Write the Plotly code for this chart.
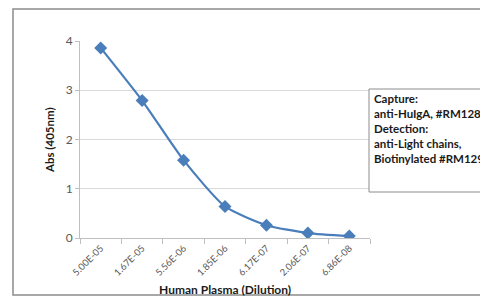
import plotly.graph_objects as go

dilutions = ["5.00E-05", "1.67E-05", "5.56E-06", "1.85E-06", "6.17E-07", "2.06E-07", "6.86E-08"]
absorbance = [3.86, 2.79, 1.58, 0.64, 0.26, 0.10, 0.04]
y_ticks = [0, 1, 2, 3, 4]
note_lines = ["Capture:", "anti-HuIgA, #RM128", "Detection:", "anti-Light chains,", "Biotinylated #RM129"]

# page has a default 8px body margin; work in page pixels and offset
OFF = 8
W, H = 488 - OFF, 297 - OFF
# plot area in page pixels
PL, PR, PT, PB = 80, 370, 41, 238

def fx(x):  # page x -> paper fraction
    return (x - OFF) / W

def fy(y):  # page y -> paper fraction
    return 1 - (y - OFF) / H

font_family = "Lato, 'Open Sans', sans-serif"

fig = go.Figure()
fig.add_trace(go.Scatter(
    x=dilutions, y=absorbance, mode="lines+markers",
    line=dict(color="#4a7ebb", width=2.2, shape="spline", smoothing=0.6),
    marker=dict(symbol="diamond", size=10, color="#4a7ebb"),
    showlegend=False,
))

fig.update_layout(
    width=W, height=H,
    margin=dict(l=0, r=0, t=0, b=0, autoexpand=False),
    paper_bgcolor="white", plot_bgcolor="rgba(0,0,0,0)",
    font=dict(family=font_family, color="#595959"),
    xaxis=dict(
        type="category", range=[-0.5, 6.5], automargin=False,
        domain=[fx(PL), fx(PR)], anchor="y",
        tickangle=-45, tickfont=dict(size=9.5, color="#595959"),
        showline=True, linecolor="#bfbfbf", linewidth=1,
        ticks="outside", ticklen=5, tickcolor="#bfbfbf", tickson="boundaries",
        showgrid=False, zeroline=False,
    ),
    yaxis=dict(
        range=[0, 4], tickvals=y_ticks, tickfont=dict(size=12, color="#595959"),
        automargin=False, domain=[fy(PB), fy(PT)], anchor="x",
        showline=True, linecolor="#bfbfbf", linewidth=1,
        ticks="outside", ticklen=4, tickcolor="#bfbfbf",
        showgrid=True, gridcolor="#d9d9d9", gridwidth=1, zeroline=False,
    ),
    annotations=[
        dict(text="<b>Abs (405nm)</b>", xref="paper", yref="paper",
             x=fx(49), y=fy(140), textangle=-90, showarrow=False,
             font=dict(size=11.5, color="#1a1a1a", family=font_family),
             xanchor="center", yanchor="middle"),
        dict(text="<b>Human Plasma (Dilution)</b>", xref="paper", yref="paper",
             x=fx(225), y=fy(289), showarrow=False,
             font=dict(size=12, color="#1a1a1a", family=font_family),
             xanchor="center", yanchor="middle"),
        dict(text="<b>" + "<br>".join(note_lines) + "</b>", xref="paper", yref="paper",
             x=fx(372), y=fy(90), showarrow=False, align="left",
             font=dict(size=11.5, color="#1a1a1a", family=font_family),
             xanchor="left", yanchor="top"),
    ],
    shapes=[
        # outer chart frame (left and top edges visible in the reference)
        dict(type="rect", xref="paper", yref="paper",
             x0=fx(13), x1=fx(486), y0=fy(295), y1=fy(9),
             line=dict(color="#8c8c8c", width=1.5), fillcolor="rgba(0,0,0,0)",
             layer="above"),
        dict(type="rect", xref="paper", yref="paper",
             x0=fx(369), x1=fx(495), y0=fy(89), y1=fy(192),
             line=dict(color="#8c8c8c", width=1), fillcolor="white"),
    ],
)

fig.write_html("out.html")
